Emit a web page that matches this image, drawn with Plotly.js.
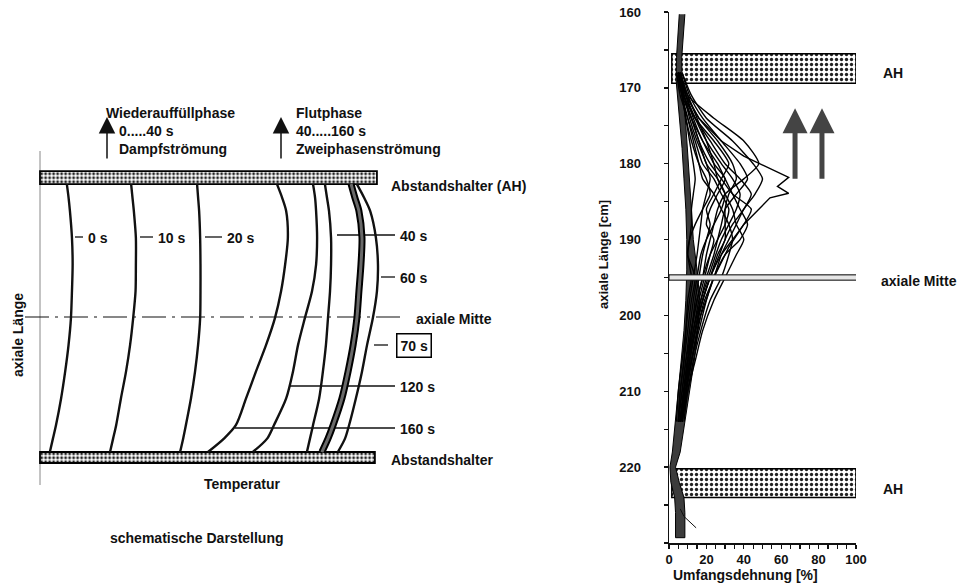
<!DOCTYPE html>
<html><head><meta charset="utf-8">
<script src="https://cdn.plot.ly/plotly-3.0.1.min.js"></script>
<style>html,body{margin:0;padding:0;background:#fff}#chart{width:963px;height:586px}</style>
</head><body><div id="chart"></div>
<script>
// ================= DATA =================
// ---- left panel: schematic temperature profiles (temperature units 0..100, axial length units 0..100) ----
const schemLevels = [100, 95, 90, 80, 70, 60, 50, 40, 30, 20, 10, 5, 0];
const temp_0s   = [7.9, 8.4, 8.8, 9.4, 9.6, 9.4, 9.1, 8.4, 7.4, 6.2, 4.7, 3.8, 2.9];
const temp_10s  = [26.8, 27.2, 27.6, 28.2, 28.2, 28.1, 27.4, 26.5, 25.3, 23.8, 22.4, 21.5, 20.6];
const temp_20s  = [46.2, 46.5, 46.8, 47.1, 47.2, 47.2, 47.1, 46.5, 45.6, 44.4, 42.9, 42.1, 41.2];
const temp_160s = [69.7, 71.2, 72.4, 72.9, 72.1, 70.9, 69.1, 66.5, 63.5, 60.6, 57.6, 54.1, 49.4];
const temp_120s = [80.3, 80.9, 81.2, 81.5, 81.2, 80.0, 77.9, 75.9, 74.4, 72.4, 68.8, 66.8, 62.6];
const temp_40s  = [83.8, 84.4, 85.0, 85.6, 85.6, 85.3, 84.7, 84.1, 83.2, 82.1, 80.3, 79.4, 78.5];
const temp_70s  = [91.5, 92.6, 93.8, 94.7, 94.4, 93.8, 93.2, 92.1, 90.6, 88.8, 86.2, 84.7, 82.9];
const temp_60s  = [93.2, 95.3, 97.1, 98.8, 99.4, 99.1, 97.9, 96.2, 94.7, 92.9, 90.9, 89.7, 87.6];
const schemSpacers = [[100, 104.85], [-4.1, 0]];   // axial extent of spacers
const schemSpacerLen = [99.1, 98.5];

// ---- right panel: circumferential strain (%) vs axial length (cm) ----
const strainLevels = [168, 171, 174, 177, 180, 182, 184, 186, 188, 190, 192, 195, 198, 202, 206, 210, 214];
const strain01 = [6, 10, 24, 40, 48, 40, 30, 26, 24, 22, 20, 18, 15, 12, 10, 8, 6];
const strain02 = [7, 12, 20, 34, 45, 50, 46, 40, 36, 32, 28, 24, 19, 15, 12, 9, 7];
const strain03 = [5, 8, 14, 22, 30, 38, 44, 40, 34, 30, 27, 22, 18, 14, 11, 9, 6];
const strain04 = [6, 9, 13, 18, 26, 30, 34, 38, 42, 38, 30, 24, 20, 16, 12, 9, 7];
const strain05 = [5, 7, 9, 12, 16, 20, 22, 18, 14, 11, 10, 14, 12, 10, 8, 6, 5];
const strain06 = [4, 6, 10, 14, 18, 24, 28, 32, 30, 26, 22, 18, 15, 12, 10, 8, 6];
const strain07 = [6, 10, 15, 20, 24, 26, 30, 34, 36, 40, 36, 30, 24, 18, 14, 10, 8];
const strain08 = [5, 8, 11, 15, 20, 22, 20, 18, 17, 16, 15, 13, 11, 9, 8, 6, 5];
const strain09 = [7, 11, 18, 28, 38, 42, 36, 30, 28, 26, 24, 20, 17, 14, 11, 8, 6];
const strain10 = [4, 7, 12, 16, 22, 28, 34, 44, 40, 34, 28, 22, 18, 14, 10, 8, 6];
const strain11 = [5, 9, 14, 20, 28, 34, 38, 36, 32, 28, 25, 21, 17, 13, 10, 8, 6];
const strain12 = [6, 8, 12, 16, 20, 26, 30, 28, 24, 20, 17, 15, 13, 11, 9, 7, 5];
const strain13 = [5, 7, 10, 13, 16, 18, 24, 28, 32, 34, 32, 28, 22, 17, 13, 10, 7];
const strain14 = [5, 7, 9, 11, 13, 14, 13, 12, 12, 11, 10, 12, 10, 9, 7, 5, 4];
const strain15 = [6, 10, 16, 26, 34, 36, 32, 30, 30, 30, 26, 22, 18, 14, 11, 9, 7];
const strain16 = [5, 8, 12, 18, 24, 30, 26, 22, 20, 24, 22, 19, 16, 13, 10, 8, 6];
const strain17 = [6, 9, 14, 24, 32, 28, 24, 20, 22, 20, 18, 16, 14, 12, 9, 7, 5];
const zigLevels = [168, 171, 174, 177, 179, 181.8, 183, 183.9, 184.5, 186, 188, 191, 195, 200, 206, 212];
const zigStrain = [5, 9, 16, 28, 40, 64, 58, 64, 54, 48, 40, 32, 24, 17, 12, 8];
const tailLevels = [225.5, 226.5, 228];
const tailStrain = [6, 8, 14.5];
// dense bundle of curves near the rod wall
const bandLevels = [160.3, 163, 166, 169, 172, 175, 178, 182, 186, 190, 194, 198, 202, 206, 210, 214, 218, 220, 222, 224, 226, 229.3];
const bandLeft   = [5.5, 4.8, 4.0, 3.8, 5.0, 6.0, 7.0, 8.0, 9.0, 9.5, 9.5, 9.0, 8.0, 6.5, 5.0, 3.5, 1.8, 0.5, 1.0, 3.0, 3.5, 3.5];
const bandRight  = [8.5, 7.5, 6.8, 7.0, 8.0, 9.0, 10.0, 11.0, 12.0, 13.0, 15.0, 16.5, 15.5, 13.5, 11.0, 8.5, 6.0, 3.5, 5.5, 8.0, 8.5, 8.5];
const ahSpans = [[165.5, 169.4], [220.2, 224.0]];   // spacer grids (AH), cm
const ahStart = 1.5, ahEnd = 100;
const midPlane = 195;
const arrowStrain = [67.4, 81.8];
const arrowFrom = 182.2, arrowTo = 172.7;
const lengthTicks = [160, 170, 180, 190, 200, 210, 220];
const strainTicks = [0, 20, 40, 60, 80, 100];

// ================= DRAW =================
const W = 963, H = 586;
const X = px => px / W, Y = py => 1 - py / H;
const FONT = '"Liberation Sans", Arial, sans-serif';
const INK = '#111';

const traces = [];
// right: spacers
traces.push({type:'bar', orientation:'h', xaxis:'x', yaxis:'y',
  y: ahSpans.map(s => (s[0]+s[1])/2), width: ahSpans.map(s => s[1]-s[0]),
  base: ahSpans.map(() => ahStart), x: ahSpans.map(() => ahEnd - ahStart),
  marker:{color:'#fff', pattern:{shape:'.', size:5, solidity:0.35, fgcolor:'#222', bgcolor:'#fff'}, line:{color:'#000', width:1.5}},
  hoverinfo:'skip', showlegend:false});
// right: bundle
traces.push({type:'scatter', mode:'lines', xaxis:'x', yaxis:'y',
  x: bandLeft.concat(bandRight.slice().reverse()), y: bandLevels.concat(bandLevels.slice().reverse()),
  fill:'toself', fillcolor:'#3c3c3c', line:{color:'#000', width:1}, hoverinfo:'skip', showlegend:false});
// right: thin curves
[strain01,strain02,strain03,strain04,strain05,strain06,strain07,strain08,strain09,strain10,strain11,strain12,strain13,strain14,strain15,strain16,strain17].forEach(s => {
  traces.push({type:'scatter', mode:'lines', xaxis:'x', yaxis:'y', x:s, y:strainLevels,
    line:{color:'#000', width:1.4, shape:'spline', smoothing:0.6}, hoverinfo:'skip', showlegend:false});
});
traces.push({type:'scatter', mode:'lines', xaxis:'x', yaxis:'y', x:zigStrain, y:zigLevels,
  line:{color:'#000', width:1.4}, hoverinfo:'skip', showlegend:false});
traces.push({type:'scatter', mode:'lines', xaxis:'x', yaxis:'y', x:tailStrain, y:tailLevels,
  line:{color:INK, width:1}, hoverinfo:'skip', showlegend:false});

// left: spacers
traces.push({type:'bar', orientation:'h', xaxis:'x2', yaxis:'y2',
  y: schemSpacers.map(s => (s[0]+s[1])/2), width: schemSpacers.map(s => s[1]-s[0]),
  base: schemSpacers.map(() => 0), x: schemSpacerLen,
  marker:{color:'#fff', pattern:{shape:'.', size:4, solidity:0.4, fgcolor:'#222', bgcolor:'#fff'}, line:{color:'#000', width:1.8}},
  hoverinfo:'skip', showlegend:false});
// left: profiles
[temp_0s, temp_10s, temp_20s, temp_160s, temp_120s, temp_40s, temp_60s].forEach(t => {
  traces.push({type:'scatter', mode:'lines', xaxis:'x2', yaxis:'y2', x:t, y:schemLevels,
    line:{color:INK, width:2.4, shape:'spline', smoothing:0.8}, hoverinfo:'skip', showlegend:false, cliponaxis:false});
});
traces.push({type:'scatter', mode:'lines', xaxis:'x2', yaxis:'y2', x:temp_70s, y:schemLevels,
  line:{color:'#000', width:7, shape:'spline', smoothing:0.8}, hoverinfo:'skip', showlegend:false});
traces.push({type:'scatter', mode:'lines', xaxis:'x2', yaxis:'y2', x:temp_70s, y:schemLevels,
  line:{color:'#6a6a6a', width:3, shape:'spline', smoothing:0.8}, hoverinfo:'skip', showlegend:false});

// ---- annotations ----
const ann = [];
function txt(px, py, text, o) {
  ann.push(Object.assign({xref:'paper', yref:'paper', x:X(px), y:Y(py), text:text, showarrow:false,
    xanchor:'left', yanchor:'middle', font:{family:FONT, size:14, color:INK, weight:'bold'}}, o || {}));
}
txt(104, 113, 'Wiederauffüllphase');
txt(117, 131, '0.....40 s');
txt(117, 149, 'Dampfströmung');
txt(294, 113, 'Flutphase');
txt(294, 131, '40.....160 s');
txt(294, 149, 'Zweiphasenströmung');
txt(389, 186, 'Abstandshalter (AH)');
txt(389, 460, 'Abstandshalter');
txt(414, 319, 'axiale Mitte');
txt(86, 238, '0 s'); txt(156, 238, '10 s'); txt(225, 238, '20 s');
txt(398, 236, '40 s'); txt(398, 278, '60 s');
txt(396, 345, '70 s', {bordercolor:'#000', borderwidth:1.5, borderpad:3});
txt(398, 387, '120 s'); txt(398, 429, '160 s');
txt(243, 484, 'Temperatur', {xanchor:'center'});
txt(197, 538, 'schematische Darstellung', {xanchor:'center'});
txt(18, 335, 'axiale Länge', {xanchor:'center', textangle:-90});
txt(881, 73, 'AH'); txt(881, 489, 'AH'); txt(879, 281, 'axiale Mitte');
txt(604, 255, 'axiale Länge [cm]', {xanchor:'center', textangle:-90, font:{family:FONT, size:13, color:INK, weight:'bold'}});
txt(745, 575, 'Umfangsdehnung [%]', {xanchor:'center'});
// arrows
[[107,117],[281,117]].forEach(a => ann.push({xref:'paper', yref:'paper', x:X(a[0]), y:Y(a[1]), ax:0, ay:43,
  axref:'pixel', ayref:'pixel', text:'', showarrow:true, arrowhead:2, arrowsize:2.2, arrowwidth:1.5, arrowcolor:INK}));
arrowStrain.forEach(s => ann.push({xref:'x', yref:'y', x:s, y:arrowTo, ax:0, ay:(arrowFrom-arrowTo)*7.58,
  text:'', showarrow:true, arrowhead:2, arrowsize:1, arrowwidth:5, arrowcolor:'#444'}));

// ---- shapes ----
const shapes = [];
function seg(x0, y0, x1, y1, o) {
  shapes.push(Object.assign({type:'line', xref:'paper', yref:'paper', x0:X(x0), y0:Y(y0), x1:X(x1), y1:Y(y1),
    line:{color:INK, width:1.3}, layer:'below'}, o || {}));
}
seg(40, 151, 40, 485, {line:{color:'#888', width:1}});
seg(25, 317, 405, 317, {line:{color:INK, width:1.1, dash:'24px,6px,3px,6px'}});
seg(75, 237, 83, 237); seg(140, 237, 153, 237); seg(205, 237, 222, 237);
seg(337, 235, 395, 235); seg(381, 277, 395, 277); seg(374, 345, 388, 345);
seg(290, 386, 395, 386); seg(235, 428, 395, 428);
shapes.push({type:'rect', xref:'x', yref:'y', x0:0, x1:100.5, y0:midPlane-0.35, y1:midPlane+0.35,
  line:{color:'#000', width:1}, fillcolor:'#e6e6e6', layer:'above'});

const axCommon = {showline:true, linecolor:INK, linewidth:1.5, ticks:'outside', ticklen:4, tickwidth:1.3,
  tickcolor:INK, showgrid:false, zeroline:false, tickfont:{family:FONT, size:13, color:INK, weight:'bold'}};
const layout = {
  width:W, height:H, margin:{l:0, r:0, t:0, b:0}, paper_bgcolor:'#fff', plot_bgcolor:'rgba(0,0,0,0)',
  showlegend:false, font:{family:FONT, color:INK},
  xaxis: Object.assign({}, axCommon, {domain:[X(669), X(856)], range:[0, 100], anchor:'y',
    tickmode:'array', tickvals:strainTicks,
    minor:{tickmode:'linear', tick0:0, dtick:5, ticks:'outside', ticklen:4, tickcolor:INK}}),
  yaxis: Object.assign({}, axCommon, {domain:[Y(543), Y(12)], range:[230, 160], anchor:'x',
    tickmode:'array', tickvals:lengthTicks, ticklabelstandoff:20,
    minor:{tickmode:'linear', tick0:160, dtick:5, ticks:'outside', ticklen:4, tickcolor:INK}}),
  xaxis2:{domain:[X(19.6), X(427.6)], range:[-6, 114], anchor:'y2', visible:false},
  yaxis2:{domain:[Y(492.2), Y(103.8)], range:[-15, 130], anchor:'x2', visible:false},
  annotations: ann, shapes: shapes, bargap:0
};
Plotly.newPlot('chart', traces, layout, {staticPlot:true, displayModeBar:false});
</script></body></html>
